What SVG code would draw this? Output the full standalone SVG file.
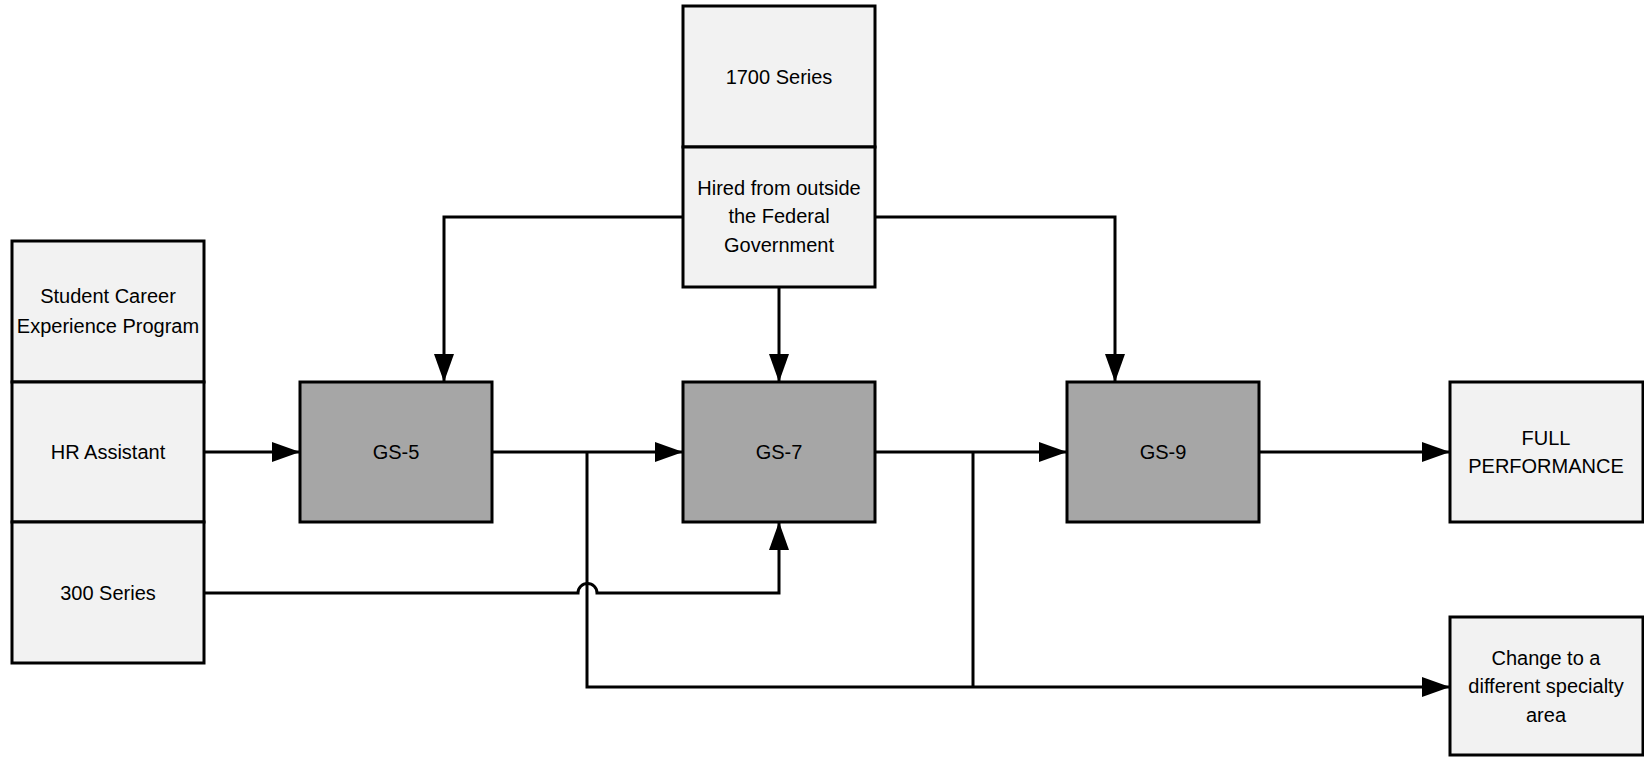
<svg xmlns="http://www.w3.org/2000/svg" width="1644" height="757" viewBox="0 0 1644 757">
<style>
.lt{fill:#f2f2f2;stroke:#000;stroke-width:3}
.dk{fill:#a6a6a6;stroke:#000;stroke-width:3}
text{font-family:"Liberation Sans",Arial,sans-serif;font-size:20px;fill:#000;text-anchor:middle}
.c{fill:none;stroke:#000;stroke-width:3}
</style>
<defs>
<marker id="ah" markerUnits="userSpaceOnUse" markerWidth="30" markerHeight="22" refX="28" refY="10" orient="auto">
<path d="M0,0 L28,10 L0,20 z" fill="#000"/>
</marker>
</defs>
<g id="connectors">
<path class="c" d="M204 452 H300" marker-end="url(#ah)"/>
<path class="c" d="M492 452 H683" marker-end="url(#ah)"/>
<path class="c" d="M875 452 H1067" marker-end="url(#ah)"/>
<path class="c" d="M1259 452 H1450" marker-end="url(#ah)"/>
<path class="c" d="M587 452 V687 H1450" marker-end="url(#ah)"/>
<path class="c" d="M973 452 V687"/>
<path class="c" d="M204 593 H578 A9.5 9.5 0 0 1 597 593 H779 V522" marker-end="url(#ah)"/>
<path class="c" d="M683 217 H444 V382" marker-end="url(#ah)"/>
<path class="c" d="M875 217 H1115 V382" marker-end="url(#ah)"/>
<path class="c" d="M779 287 V382" marker-end="url(#ah)"/>
</g>
<g id="student">
<rect class="lt" x="12" y="241" width="192" height="141"/>
<text x="108" y="303">Student Career</text>
<text x="108" y="333">Experience Program</text>
</g>
<g id="hr">
<rect class="lt" x="12" y="382" width="192" height="140"/>
<text x="108" y="459">HR Assistant</text>
</g>
<g id="s300">
<rect class="lt" x="12" y="522" width="192" height="141"/>
<text x="108" y="600">300 Series</text>
</g>
<g id="s1700">
<rect class="lt" x="683" y="6" width="192" height="141"/>
<text x="779" y="84">1700 Series</text>
</g>
<g id="hired">
<rect class="lt" x="683" y="147" width="192" height="140"/>
<text x="779" y="195">Hired from outside</text>
<text x="779" y="223">the Federal</text>
<text x="779" y="252">Government</text>
</g>
<g id="gs5">
<rect class="dk" x="300" y="382" width="192" height="140"/>
<text x="396" y="459">GS-5</text>
</g>
<g id="gs7">
<rect class="dk" x="683" y="382" width="192" height="140"/>
<text x="779" y="459">GS-7</text>
</g>
<g id="gs9">
<rect class="dk" x="1067" y="382" width="192" height="140"/>
<text x="1163" y="459">GS-9</text>
</g>
<g id="full">
<rect class="lt" x="1450" y="382" width="193" height="140"/>
<text x="1546" y="445">FULL</text>
<text x="1546" y="473">PERFORMANCE</text>
</g>
<g id="change">
<rect class="lt" x="1450" y="617" width="193" height="138"/>
<text x="1546" y="665">Change to a</text>
<text x="1546" y="693">different specialty</text>
<text x="1546" y="722">area</text>
</g>
</svg>
